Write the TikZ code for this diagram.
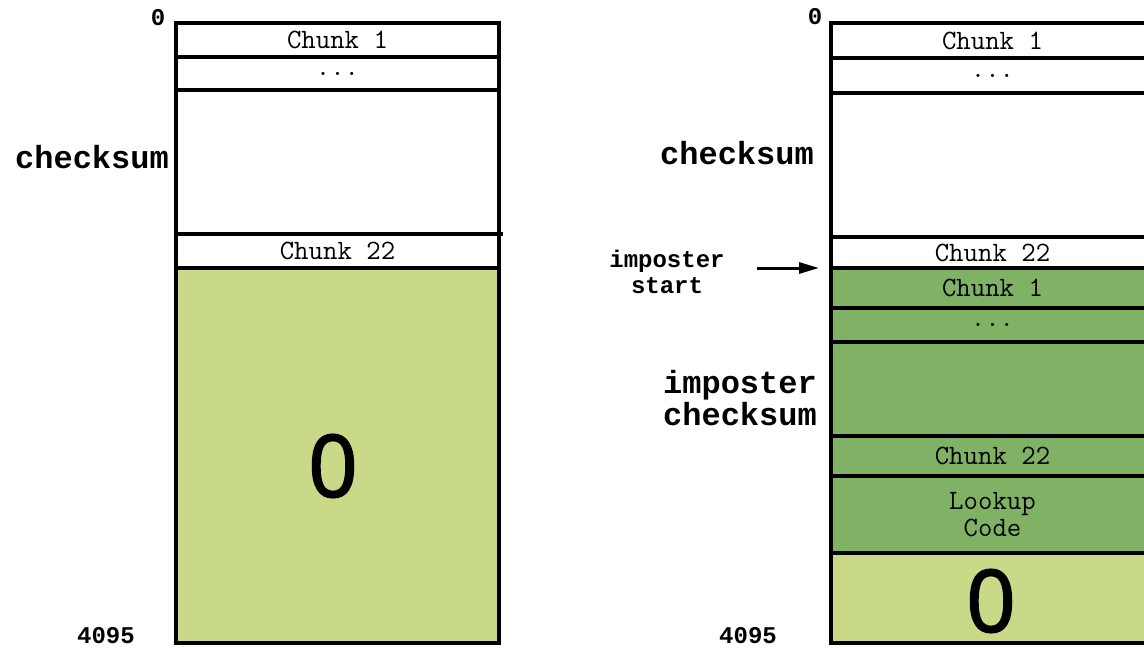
\documentclass[tikz,border=0pt]{standalone}
\usepackage{fontspec}
\setmainfont{Liberation Sans}
\newfontfamily\cour{Liberation Mono}
\newfontfamily\osans[FakeBold=2.2]{Open Sans}
\usetikzlibrary{arrows.meta}
\definecolor{lightg}{HTML}{C8D987}
\definecolor{darkg}{HTML}{80B266}
\tikzset{
  seg/.style={draw=black, line width=3.2pt, anchor=north west, minimum width=323pt,
    inner sep=0pt, outer sep=0pt, font=\ttfamily\fontsize{28}{27}\selectfont, align=center},
  lbl/.style={font=\cour\bfseries\fontsize{32}{32}\selectfont, inner sep=0pt, align=center},
  slbl/.style={font=\cour\bfseries\fontsize{24}{26}\selectfont, inner sep=0pt, align=center},
  big/.style={font=\osans\fontsize{86}{86}\selectfont, inner sep=0pt},
}
\begin{document}
\begin{tikzpicture}[x=1pt,y=-1pt]
\useasboundingbox (0,0) rectangle (1144,648);
\clip (0,0) rectangle (1144,648);
% left column
\node[seg, fill=white, minimum height=34pt] (l1) at (176,23) {Chunk 1};
\node[seg, fill=white, minimum height=33pt] (l2) at (176,57) {...};
\node[seg, fill=white, minimum height=144pt] (l3) at (176,90) {};
\node[seg, fill=white, minimum height=34pt] (l4) at (176,234) {Chunk 22};
\node[seg, fill=lightg, minimum height=375pt] (l5) at (176,268) {};
\draw[line width=3.2pt] (l4.north east) -- ++(4,0);
\node[big] (lz) at (333,466) {0};
\node[slbl] (l0) at (158,18) {0};
\node[lbl, anchor=east] (lck) at (169,157) {checksum};
\node[slbl] (l4095) at (106,636) {4095};
% right column
\node[seg, fill=white, minimum height=35pt] (r1) at (831,23) {Chunk 1};
\node[seg, fill=white, minimum height=35pt] (r2) at (831,58) {...};
\node[seg, fill=white, minimum height=144pt] (r3) at (831,93) {};
\node[seg, fill=white, minimum height=31pt] (r4) at (831,237) {Chunk 22};
\node[seg, fill=darkg, minimum height=40pt] (r5) at (831,268) {Chunk 1};
\node[seg, fill=darkg, minimum height=34pt] (r6) at (831,308) {...};
\node[seg, fill=darkg, minimum height=94pt] (r7) at (831,342) {};
\node[seg, fill=darkg, minimum height=40pt] (r8) at (831,436) {Chunk 22};
\node[seg, fill=darkg, minimum height=77pt] (r9) at (831,476) {Lookup\\Code};
\node[seg, fill=lightg, minimum height=90pt] (r10) at (831,553) {};
\node[big] (rz) at (991,601) {0};
\node[slbl] (r0) at (815,17) {0};
\node[lbl] (rck) at (737,153) {checksum};
\node[slbl] (ris) at (667,272) {imposter\\start};
\node[lbl] (ric) at (740,398) {imposter\\checksum};
\node[slbl] (r4095) at (748,636) {4095};
\coordinate (as) at (757,268);
\coordinate (ae) at (819,268);
\draw[line width=3pt, -{Triangle[length=20pt,width=11pt]}] (as) -- (ae);
\end{tikzpicture}
\end{document}
